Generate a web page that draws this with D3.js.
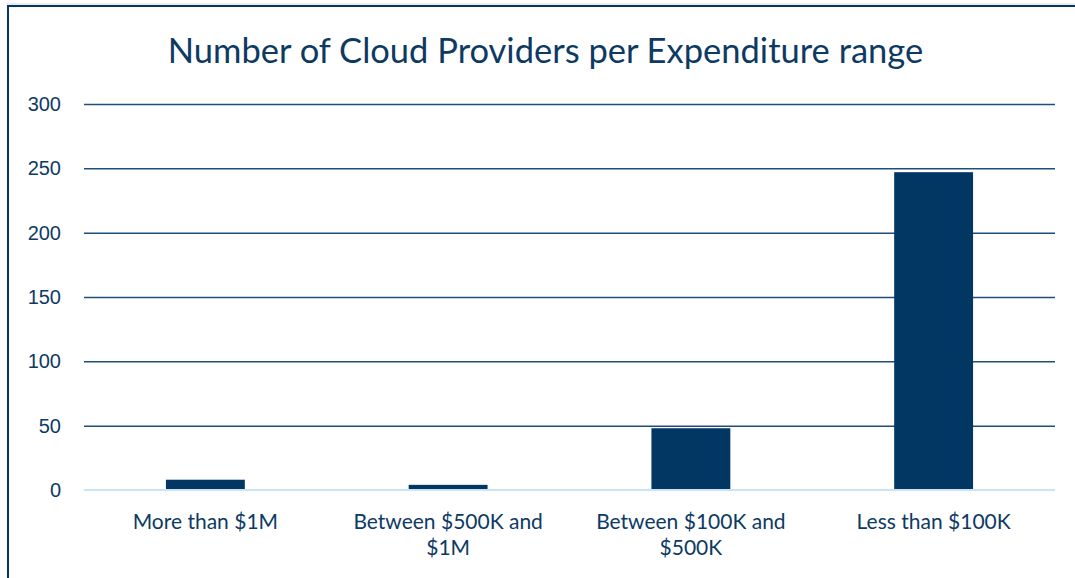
<!DOCTYPE html>
<html>
<head>
<meta charset="utf-8">
<script src="https://cdnjs.cloudflare.com/ajax/libs/d3/7.8.5/d3.min.js"></script>
<style>
  body { margin: 0; background: #fff; }
  svg { display: block; font-family: Lato, "Open Sans", sans-serif; }
</style>
</head>
<body>
<div id="chart"></div>
<script>
// chart data
const categories = ["More than $1M", "Between $500K and $1M", "Between $100K and $500K", "Less than $100K"];
const providerCounts = [8, 4, 48, 247];
const yTicks = [0, 50, 100, 150, 200, 250, 300];
const titleText = "Number of Cloud Providers per Expenditure range";

const width = 1075, height = 578;
const margin = { top: 104, right: 20, bottom: 88, left: 84 };
const navy = "#023763";

const svg = d3.select("#chart").append("svg")
    .attr("width", width)
    .attr("height", height);

// chart frame (only top and left edges visible in the crop)
svg.append("line").attr("x1", 7).attr("x2", width).attr("y1", 4).attr("y2", 4)
    .attr("stroke", "#d9d9d9").attr("stroke-width", 1);
svg.append("path")
    .attr("d", `M8,${height} V6 H${width}`)
    .attr("fill", "none").attr("stroke", navy).attr("stroke-width", 2);

const x = d3.scaleBand()
    .domain(categories)
    .range([margin.left, width - margin.right])
    .paddingInner(0.675)
    .paddingOuter(0.3375);

const y = d3.scaleLinear()
    .domain([0, 300])
    .range([height - margin.bottom, margin.top]);

// gridlines
const grid = svg.append("g")
    .attr("transform", `translate(${margin.left},0)`)
    .call(d3.axisLeft(y).tickValues(yTicks.slice(1)).tickSize(-(width - margin.right - margin.left)).tickFormat(""));
grid.select(".domain").remove();
grid.selectAll("line").attr("stroke", "#1f4e79").attr("stroke-width", 1.5);

// y labels
const yAxis = svg.append("g")
    .attr("transform", `translate(${margin.left},0)`)
    .call(d3.axisLeft(y).tickValues(yTicks).tickSize(0).tickPadding(23));
yAxis.select(".domain").remove();
yAxis.selectAll("text")
    .attr("fill", "#0d3a63")
    .style("font-size", "20px");

// bars
svg.append("g")
    .selectAll("rect")
    .data(providerCounts)
    .join("rect")
    .attr("x", (d, i) => x(categories[i]))
    .attr("width", x.bandwidth())
    .attr("y", d => y(d))
    .attr("height", d => y(0) - y(d))
    .attr("fill", navy);

// zero axis line
svg.append("line")
    .attr("x1", margin.left).attr("x2", width - margin.right)
    .attr("y1", y(0)).attr("y2", y(0))
    .attr("stroke", "#c9e3f7").attr("stroke-width", 2);

// category labels, wrapped like the original
const labelLines = [["More than $1M"], ["Between $500K and", "$1M"], ["Between $100K and", "$500K"], ["Less than $100K"]];
const xLabels = svg.append("g")
    .selectAll("text")
    .data(categories)
    .join("text")
    .attr("text-anchor", "middle")
    .attr("fill", "#0d3a63")
    .style("font-size", "21px")
    .attr("transform", d => `translate(${x(d) + x.bandwidth() / 2},${y(0) + 39})`);
xLabels.each(function(d, i) {
    d3.select(this).selectAll("tspan")
        .data(labelLines[i])
        .join("tspan")
        .attr("x", 0)
        .attr("dy", (t, j) => j === 0 ? 0 : 26)
        .text(t => t);
});

// title
svg.append("text")
    .attr("x", (margin.left + width - margin.right) / 2 - 24)
    .attr("y", 63)
    .attr("text-anchor", "middle")
    .attr("fill", "#0d3a63")
    .style("font-size", "34.5px")
    .text(titleText);
</script>
</body>
</html>
